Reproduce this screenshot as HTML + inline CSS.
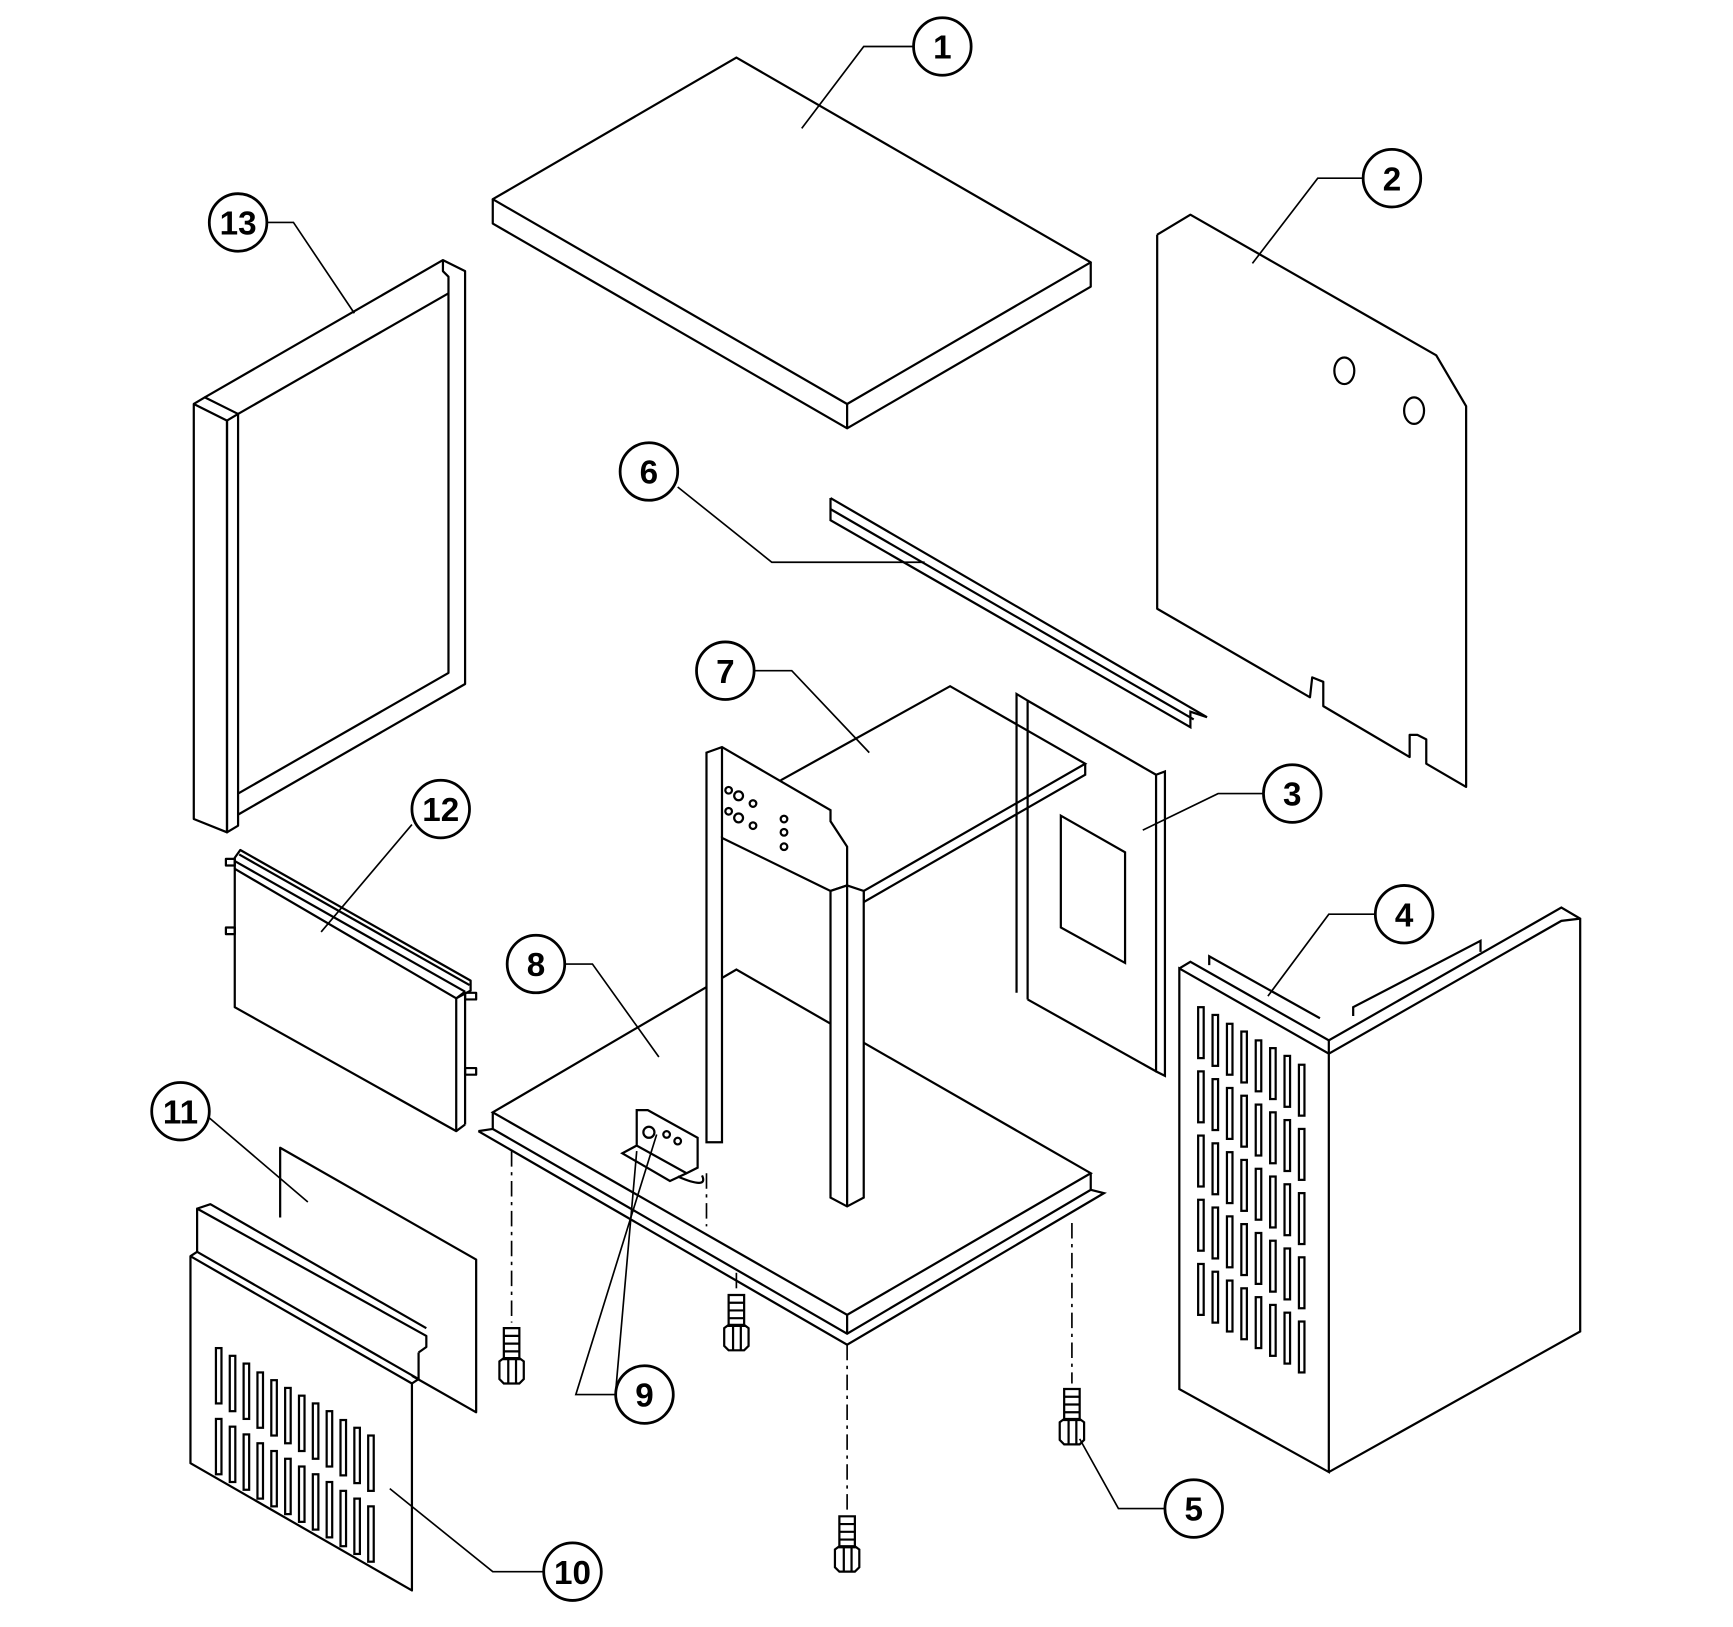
<!DOCTYPE html>
<html><head><meta charset="utf-8"><style>
html,body{margin:0;padding:0;background:#fff}
svg{display:block}
text{font-family:"Liberation Sans",sans-serif;font-weight:bold;font-size:30px;text-anchor:middle}
</style></head><body>
<svg width="1733" height="1627" viewBox="0 0 1565 1470" preserveAspectRatio="none" xmlns="http://www.w3.org/2000/svg">
<g fill="none" stroke="#000" stroke-width="2" stroke-linejoin="round">
<polygon points="445,180 665,52 985,237 765,365" fill="#fff"/>
<polyline points="445,180 445,202 765,387 985,259 985,237"/>
<line x1="765" y1="365" x2="765" y2="387"/>
<polyline points="1045,212 1075,194 1297,321 1324,367 1324,711 1288,690 1288,668 1280,664 1273,664 1273,684 1195,638 1195,616 1185,612 1183,630 1045,550 1045,212"/>
<ellipse cx="1214" cy="335" rx="9" ry="12"/>
<ellipse cx="1277" cy="371" rx="9" ry="12"/>
<polygon points="175,365 205,380 205,752 175,740"/>
<polygon points="205,380 215,374 215,746 205,752"/>
<polyline points="175,365 185,359 215,374"/>
<polyline points="185,359 400,235 420,245 420,618 215,736"/>
<polyline points="215,374 405,265"/>
<polyline points="400,235 400,245 405,250 405,608 215,717"/>
<polygon points="212,785 412,902 412,1022 212,910"/>
<polyline points="212,785 212,775 217,768 425,886 425,895 412,902"/>
<line x1="212" y1="778" x2="420" y2="896"/>
<line x1="216" y1="772" x2="424" y2="890"/>
<line x1="412" y1="902" x2="420" y2="896"/>
<line x1="420" y1="896" x2="420" y2="1016"/><line x1="412" y1="1022" x2="420" y2="1016"/>
<rect x="204" y="776" width="8" height="6"/><rect x="204" y="838" width="8" height="6"/>
<rect x="420" y="897" width="10" height="6"/><rect x="420" y="965" width="10" height="6"/>
<polyline points="253,1100 253,1037 430,1138 430,1276 372,1243"/>
<polygon points="172,1135 372,1250 372,1437 172,1322" fill="#fff"/>
<polyline points="178,1131 178,1092 385,1207 385,1217 378,1222"/>
<polyline points="178,1092 190,1088 385,1200"/>
<polyline points="172,1135 178,1131 378,1246 372,1250"/>
<line x1="378" y1="1222" x2="378" y2="1246"/>
</g>
<g fill="none" stroke="#000" stroke-width="2">
<g id="s10">
<rect x="195" y="1218" width="5" height="50"/><rect x="207.5" y="1225" width="5" height="50"/><rect x="220" y="1232" width="5" height="50"/><rect x="232.5" y="1240" width="5" height="50"/><rect x="245" y="1247" width="5" height="50"/><rect x="257.5" y="1254" width="5" height="50"/><rect x="270" y="1261" width="5" height="50"/><rect x="282.5" y="1268" width="5" height="50"/><rect x="295" y="1275" width="5" height="50"/><rect x="307.5" y="1283" width="5" height="50"/><rect x="320" y="1290" width="5" height="50"/><rect x="332.5" y="1297" width="5" height="50"/>
</g>
<use href="#s10" y="64"/>
<g id="s4">
<rect x="1082" y="910" width="5" height="46"/><rect x="1095" y="917" width="5" height="46"/><rect x="1108" y="925" width="5" height="46"/><rect x="1121" y="932" width="5" height="46"/><rect x="1134" y="940" width="5" height="46"/><rect x="1147" y="947" width="5" height="46"/><rect x="1160" y="954" width="5" height="46"/><rect x="1173" y="962" width="5" height="46"/>
</g>
<use href="#s4" y="58"/><use href="#s4" y="116"/><use href="#s4" y="174"/><use href="#s4" y="232"/>
<polygon points="445,1005 665,876 985,1060 765,1188"/>
<polyline points="445,1005 445,1020 765,1205 985,1075 985,1060"/>
<line x1="765" y1="1188" x2="765" y2="1205"/>
<polyline points="432,1022 445,1020"/>
<polyline points="432,1022 765,1215 997,1078 985,1075"/>
<polygon points="575,1003 585,1003 630,1028 630,1055 620,1060 575,1035" fill="#fff"/>
<polyline points="575,1035 562,1042 605,1067 620,1060"/>
<path d="M612,1063 Q640,1075 634,1062"/>
<circle cx="586" cy="1023" r="5"/><circle cx="602" cy="1025" r="3"/><circle cx="612" cy="1031" r="3"/>
<polyline points="705,705 858,620 980,690 780,805"/>
<polyline points="780,805 780,815 980,700 980,690"/>
<polygon points="638,680 652,675 750,732 750,742 765,765 765,800 750,805 652,757 652,1032 638,1032" fill="#fff"/>
<line x1="652" y1="757" x2="652" y2="675"/>
<polygon points="750,805 765,800 780,805 780,1082 765,1090 750,1082" fill="#fff"/>
<line x1="765" y1="800" x2="765" y2="1090"/>
<circle cx="658" cy="714" r="3"/><circle cx="667" cy="719" r="4"/><circle cx="680" cy="726" r="3"/>
<circle cx="658" cy="733" r="3"/><circle cx="667" cy="739" r="4"/><circle cx="680" cy="746" r="3"/>
<circle cx="708" cy="740" r="3"/><circle cx="708" cy="752" r="3"/><circle cx="708" cy="765" r="3"/>
<polyline points="918,897 918,627 928,633 928,903"/>
<line x1="928" y1="633" x2="1044" y2="700"/>
<polyline points="1044,700 1052,697 1052,972 1044,968 1044,700"/>
<line x1="928" y1="903" x2="1044" y2="968"/>
<polygon points="958,737 1016,770 1016,870 958,838"/>
<polyline points="750,450 750,470 1075,657 1075,643 1090,648 750,450"/>
<line x1="750" y1="460" x2="1078" y2="650"/>
<polygon points="1065,875 1200,952 1200,1330 1065,1255"/>
<polyline points="1065,875 1075,869 1200,940 1410,820 1427,830 1427,1203 1200,1330"/>
<polyline points="1200,952 1410,832 1427,830"/>
<line x1="1200" y1="940" x2="1200" y2="952"/>
<polyline points="1092,872 1092,864 1192,920"/>
<polyline points="1222,918 1222,910 1337,850 1337,860"/>
<g stroke-width="1.5" stroke-dasharray="14,5,3,5">
<line x1="462" y1="1040" x2="462" y2="1195"/>
<line x1="638" y1="1060" x2="638" y2="1108"/>
<line x1="665" y1="1150" x2="665" y2="1165"/>
<line x1="765" y1="1215" x2="765" y2="1365"/>
<line x1="968" y1="1105" x2="968" y2="1250"/>
</g>
<path transform="translate(462,1200)" d="M-7,0 h14 v28 h-14 z M-7,7 h14 M-7,14 h14 M-7,21 h14 M-11,30 l4,-3 h14 l4,3 v16 l-4,4 h-14 l-4,-4 z M-3,28 v22 M4,28 v22"/>
<path transform="translate(665,1170)" d="M-7,0 h14 v28 h-14 z M-7,7 h14 M-7,14 h14 M-7,21 h14 M-11,30 l4,-3 h14 l4,3 v16 l-4,4 h-14 l-4,-4 z M-3,28 v22 M4,28 v22"/>
<path transform="translate(968,1255)" d="M-7,0 h14 v28 h-14 z M-7,7 h14 M-7,14 h14 M-7,21 h14 M-11,30 l4,-3 h14 l4,3 v16 l-4,4 h-14 l-4,-4 z M-3,28 v22 M4,28 v22"/>
<path transform="translate(765,1370)" d="M-7,0 h14 v28 h-14 z M-7,7 h14 M-7,14 h14 M-7,21 h14 M-11,30 l4,-3 h14 l4,3 v16 l-4,4 h-14 l-4,-4 z M-3,28 v22 M4,28 v22"/>
</g>
<g fill="none" stroke="#000" stroke-width="1.5">
<polyline points="825,42 780,42 724,116"/>
<polyline points="1231,161 1190,161 1131,238"/>
<polyline points="241,201 265,201 320,283"/>
<polyline points="372,745 290,842"/>
<polyline points="189,1010 278,1086"/>
<polyline points="491,1420 445,1420 352,1345"/>
<polyline points="510,871 535,871 595,955"/>
<polyline points="556,1260 520,1260 593,1025"/>
<polyline points="556,1257 575,1040"/>
<polyline points="681,606 715,606 785,680"/>
<polyline points="1141,717 1100,717 1032,750"/>
<polyline points="612,440 697,508 835,508"/>
<polyline points="1242,826 1200,826 1145,900"/>
<polyline points="1052,1363 1010,1363 975,1300"/>
</g>
<g fill="#fff" stroke="#000" stroke-width="2.5">
<circle cx="851" cy="42" r="26"/><circle cx="1257" cy="161" r="26"/><circle cx="215" cy="201" r="26"/>
<circle cx="398" cy="731" r="26"/><circle cx="163" cy="1004" r="26"/><circle cx="517" cy="1420" r="26"/>
<circle cx="484" cy="871" r="26"/><circle cx="582" cy="1260" r="26"/><circle cx="655" cy="606" r="26"/>
<circle cx="1167" cy="717" r="26"/><circle cx="586" cy="426" r="26"/><circle cx="1268" cy="826" r="26"/>
<circle cx="1078" cy="1363" r="26"/>
</g>
<g>
<text x="851" y="53">1</text><text x="1257" y="172">2</text><text x="215" y="212">13</text>
<text x="398" y="742">12</text><text x="163" y="1015">11</text><text x="517" y="1431">10</text>
<text x="484" y="882">8</text><text x="582" y="1271">9</text><text x="655" y="617">7</text>
<text x="1167" y="728">3</text><text x="586" y="437">6</text><text x="1268" y="837">4</text>
<text x="1078" y="1374">5</text>
</g>
</svg>
</body></html>
